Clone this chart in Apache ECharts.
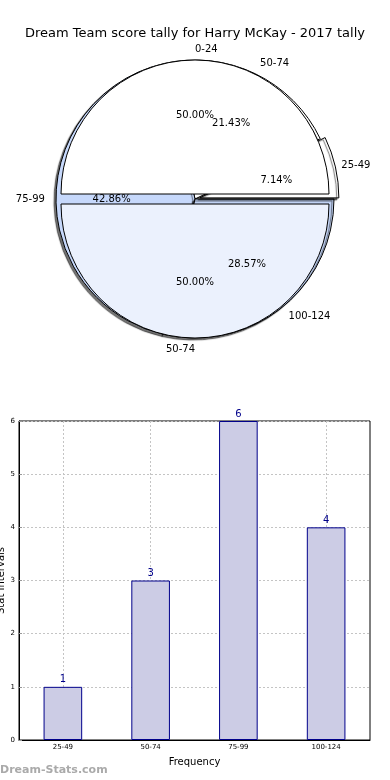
<!DOCTYPE html>
<html><head><meta charset="utf-8">
<script src="https://cdn.jsdelivr.net/npm/echarts@6/dist/echarts.min.js"></script>
<style>html,body{margin:0;padding:0;background:#fff}#c{width:390px;height:780px}</style>
</head><body><div id="c"></div>
<script>
var titleText = 'Dream Team score tally for Harry McKay - 2017 tally';
// outer 4-slice pie (score intervals)
var intervalNames = ['25-49', '50-74', '75-99', '100-124'];
var intervalCounts = [1, 3, 6, 4];
var intervalColors = ['#ffffff', '#ffffff', '#c6d8fb', '#c6d8fb'];
// overlaid 2-slice pie
var halfNames = ['0-24', '50-74'];
var halfValues = [1, 1];
var halfColors = ['#ffffff', '#ebf1fd'];
// bar chart
var barCategories = ['25-49', '50-74', '75-99', '100-124'];
var barValues = [1, 3, 6, 4];
var yTicks = [0, 1, 2, 3, 4, 5, 6];

var FONT = 'DejaVu Sans';
var R = 134;
var CX = 195, CY = 199;

function pct(vals) {
  var t = vals.reduce(function (a, b) { return a + b; }, 0);
  return function (p) { return (p.value / t * 100).toFixed(2) + '%'; };
}
function mk(names, vals, colors, extra) {
  return names.map(function (n, i) {
    var d = { name: n, value: vals[i], itemStyle: { color: colors ? colors[i] : 'rgba(0,0,0,0)' } };
    if (extra) Object.assign(d, extra(i));
    return d;
  });
}
var common = { type: 'pie', center: [CX, CY], startAngle: 0, clockwise: false, avoidLabelOverlap: false, silent: true, animation: false, minShowLabelAngle: 0, labelLayout: { hideOverlap: false } };

var chart = echarts.init(document.getElementById('c'));
chart.setOption({
  animation: false,
  title: { text: titleText, left: 'center', top: 22, textStyle: { fontFamily: FONT, fontSize: 13, fontWeight: 'normal', color: '#000' } },
  graphic: [{ type: 'text', left: 0, top: 765, style: { text: 'Dream-Stats.com', font: 'bold 11px ' + FONT, fill: '#aaaaaa' } }],
  grid: { left: 19, right: 20, top: 421, bottom: 40, show: true, borderColor: '#000', borderWidth: 1, outerBoundsMode: 'none', containLabel: false },
  xAxis: {
    type: 'category', data: barCategories,
    name: 'Frequency', nameLocation: 'middle', nameGap: 17, nameMoveOverlap: false,
    nameTextStyle: { fontFamily: FONT, fontSize: 10, color: '#000' },
    axisLine: { lineStyle: { color: '#000' } },
    axisTick: { show: false, alignWithLabel: true },
    axisLabel: { fontFamily: FONT, fontSize: 7, color: '#000', margin: 4 },
    splitLine: { show: true, alignWithLabel: true, lineStyle: { type: [2, 2], color: '#c4c4c4', width: 1 } }
  },
  yAxis: {
    type: 'value', min: yTicks[0], max: yTicks[yTicks.length - 1], interval: 1,
    name: 'Stat Intervals', nameLocation: 'middle', nameGap: 13, nameRotate: 90, nameMoveOverlap: false,
    nameTextStyle: { fontFamily: FONT, fontSize: 10, color: '#000' },
    axisLine: { show: true, lineStyle: { color: '#000' } },
    axisTick: { show: true, inside: true, length: 3, lineStyle: { color: '#999' } },
    axisLabel: { fontFamily: FONT, fontSize: 7, color: '#000', margin: 4 },
    splitLine: { show: true, lineStyle: { type: [2, 2], color: '#c4c4c4', width: 1 } }
  },
  series: [
    Object.assign({}, common, {
      z: 1, radius: R + 5, selectedMode: 'multiple', selectedOffset: 5,
      data: mk(intervalNames, intervalCounts, intervalColors, function (i) { return { selected: i === 0 }; }),
      itemStyle: { borderColor: '#000', borderWidth: 1, shadowColor: 'rgba(0,0,0,0.55)', shadowOffsetX: -2, shadowOffsetY: 2, shadowBlur: 1 },
      label: { show: false }, labelLine: { show: false }
    }),
    Object.assign({}, common, {
      z: 2, radius: R, selectedMode: 'multiple', selectedOffset: 5,
      data: mk(halfNames, halfValues, halfColors, function () { return { selected: true }; }),
      itemStyle: { borderColor: '#000', borderWidth: 1 },
      label: { show: false }, labelLine: { show: false }
    }),
    // percent labels (at about 0.6R)
    Object.assign({}, common, {
      z: 3, radius: R * 1.2,
      data: mk(intervalNames, intervalCounts, null),
      label: { show: true, position: 'inside', formatter: pct(intervalCounts), fontFamily: FONT, fontSize: 10, color: '#000' },
      labelLine: { show: false }
    }),
    Object.assign({}, common, {
      z: 3, radius: R * 1.2,
      data: mk(halfNames, halfValues, null),
      label: { show: true, position: 'inside', formatter: pct(halfValues), fontFamily: FONT, fontSize: 10, color: '#000' },
      labelLine: { show: false }
    }),
    // name labels (at about 1.1R)
    Object.assign({}, common, {
      z: 3, radius: R,
      data: mk(intervalNames, intervalCounts, null),
      label: { show: true, position: 'outside', formatter: '{b}', fontFamily: FONT, fontSize: 10, color: '#000', distanceToLabelLine: 0 },
      labelLine: { show: false, length: R * 0.12, length2: 0 }
    }),
    Object.assign({}, common, {
      z: 3, radius: R,
      data: mk(halfNames, halfValues, null),
      label: { show: true, position: 'outside', formatter: '{b}', fontFamily: FONT, fontSize: 10, color: '#000', distanceToLabelLine: 0 },
      labelLine: { show: false, length: R * 0.12, length2: 0 }
    }),
    {
      type: 'bar', data: barValues, barWidth: '44%',
      itemStyle: { color: '#ccccе5'.replace('е', 'e'), borderColor: '#00008b', borderWidth: 1 },
      label: { show: true, position: 'top', distance: 2, fontFamily: FONT, fontSize: 10, color: '#00008b' }
    }
  ]
});
</script></body></html>
